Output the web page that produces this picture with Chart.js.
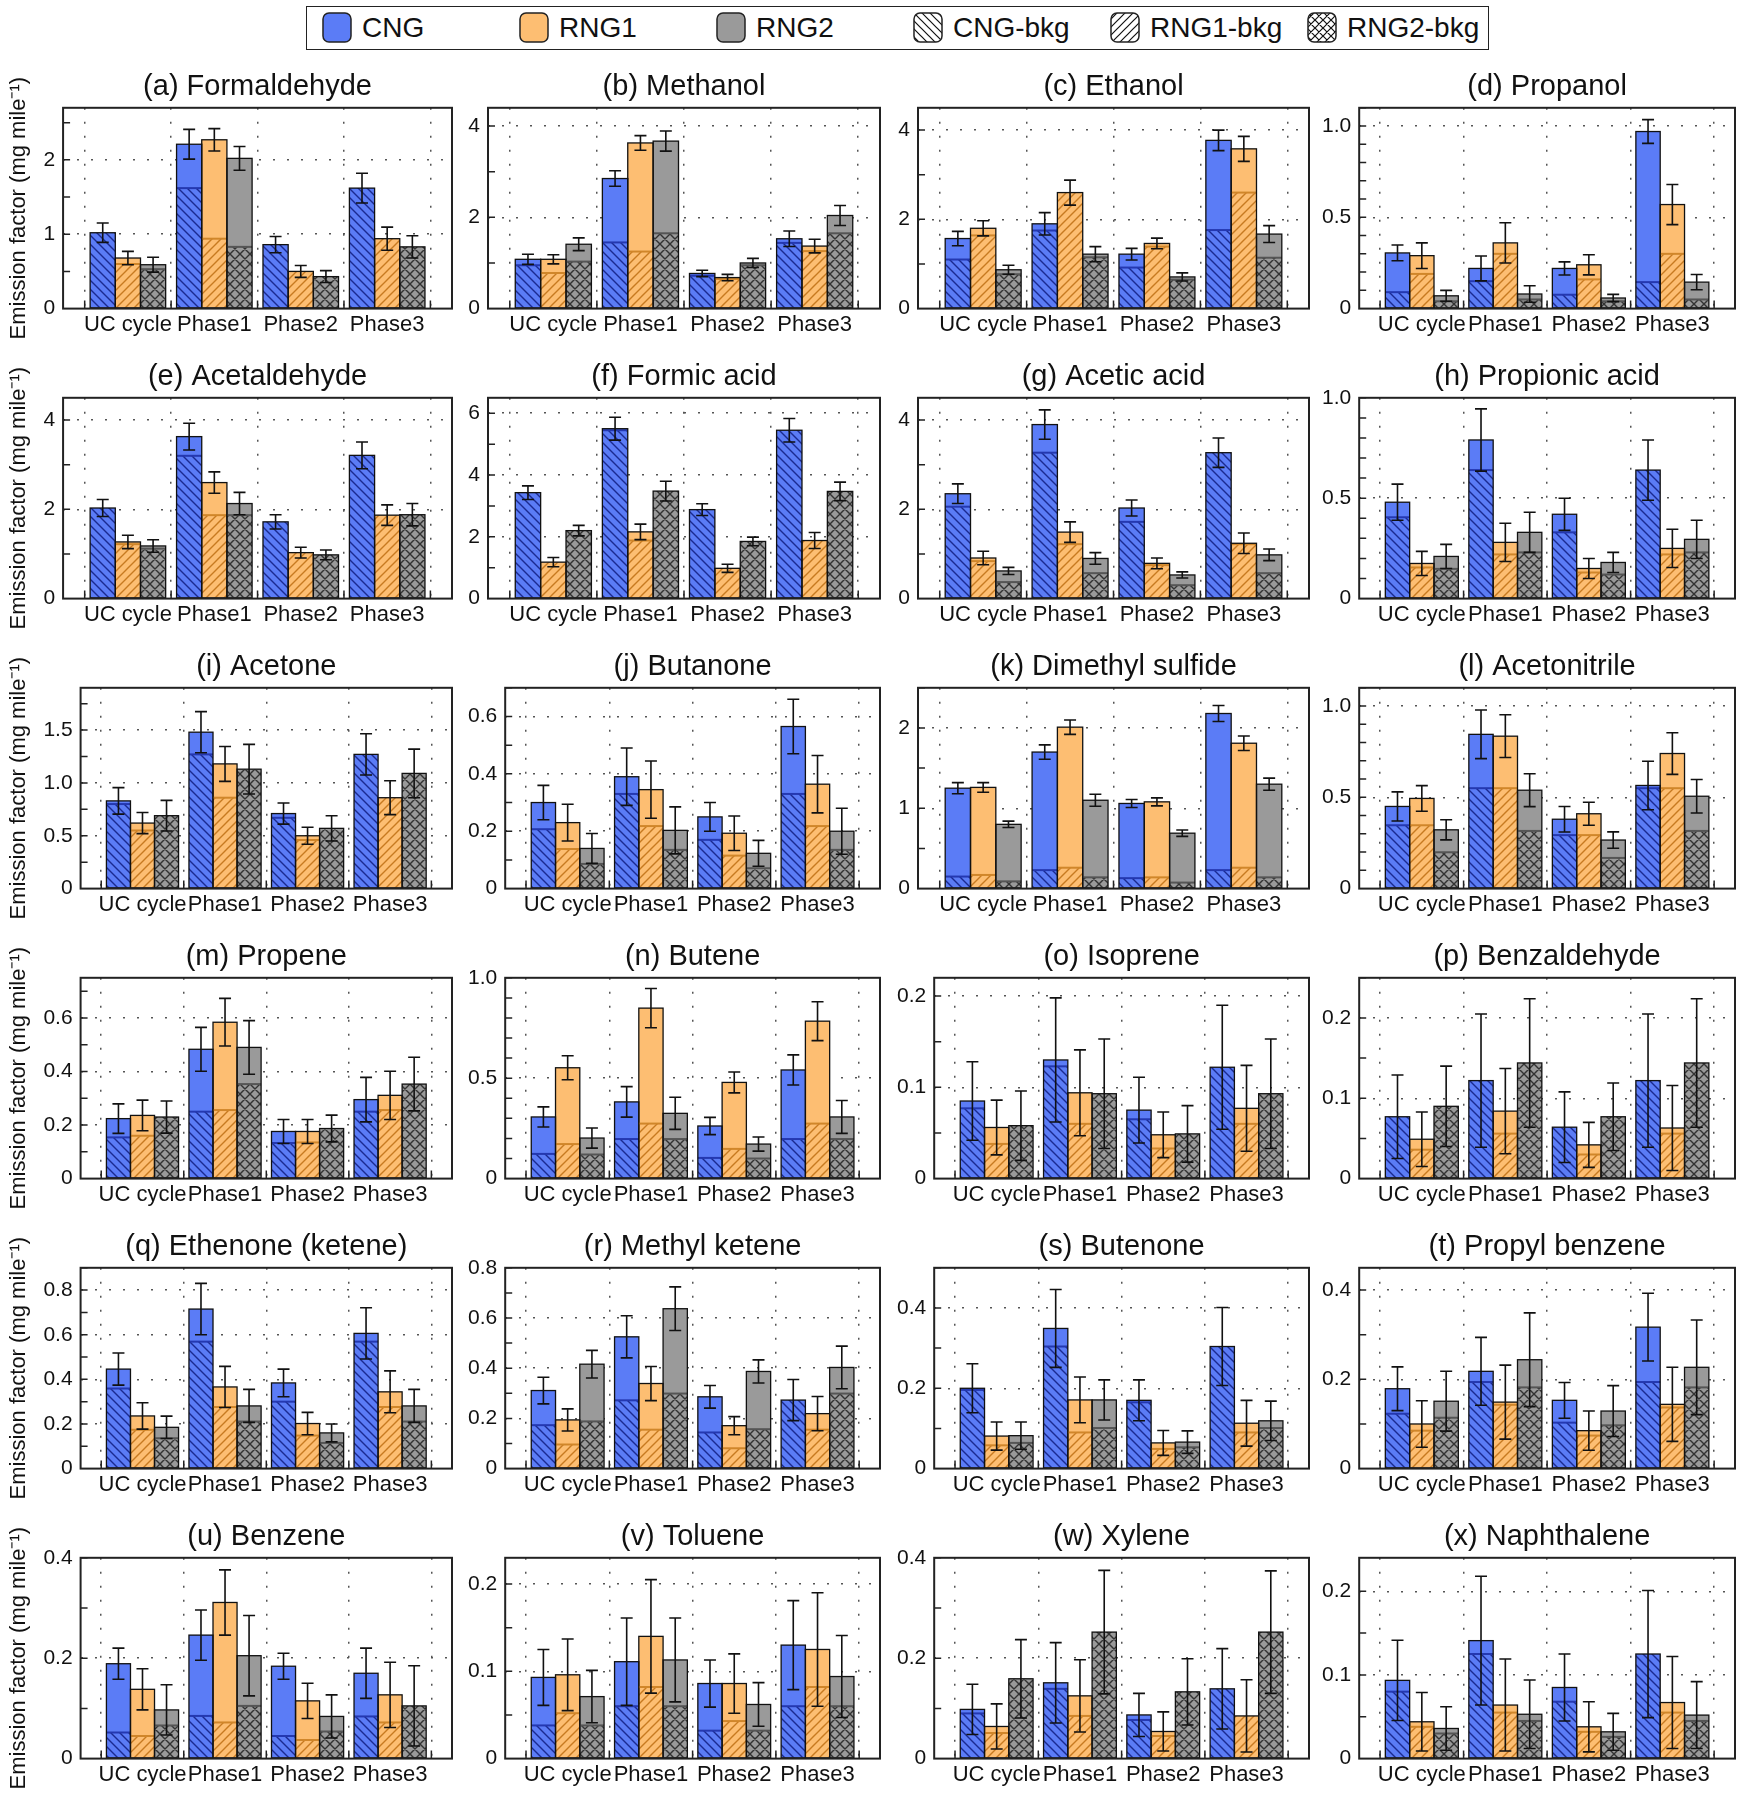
<!DOCTYPE html>
<html>
<head>
<meta charset="utf-8">
<script src="https://cdn.jsdelivr.net/npm/chart.js@4.4.1/dist/chart.umd.min.js"></script>
<style>
  html, body { margin: 0; padding: 0; background: #fff; width: 1743px; height: 1800px; overflow: hidden; }
  body { position: relative; font-family: "Liberation Sans", Arial, Helvetica, sans-serif; }
  #legend { position: absolute; left: 306px; top: 6px; width: 1183px; height: 44px; border: 1.5px solid #222; box-sizing: border-box; }
  .item { position: absolute; top: 5px; height: 31px; font-size: 28px; line-height: 31px; color: #111; }
  .item canvas { position: absolute; left: 0; top: 0; }
  .item span { position: absolute; left: 40px; top: 0; white-space: nowrap; }
  .panel { position: absolute; }
</style>
</head>
<body>
<div id="legend"></div>
<script>
var FONT = '"Liberation Sans", Arial, Helvetica, sans-serif';

var categories = ['UC cycle', 'Phase1', 'Phase2', 'Phase3'];
var seriesNames = ['CNG', 'RNG1', 'RNG2'];
var panelTitles = ['(a) Formaldehyde', '(b) Methanol', '(c) Ethanol', '(d) Propanol',
  '(e) Acetaldehyde', '(f) Formic acid', '(g) Acetic acid', '(h) Propionic acid',
  '(i) Acetone', '(j) Butanone', '(k) Dimethyl sulfide', '(l) Acetonitrile',
  '(m) Propene', '(n) Butene', '(o) Isoprene', '(p) Benzaldehyde',
  '(q) Ethenone (ketene)', '(r) Methyl ketene', '(s) Butenone', '(t) Propyl benzene',
  '(u) Benzene', '(v) Toluene', '(w) Xylene', '(x) Naphthalene'];

// y axis range and tick steps, one entry per panel
var yMax   = [2.7, 4.4, 4.5, 1.1, 4.5, 6.5, 4.5, 1.0, 1.9, 0.7, 2.5, 1.1, 0.75, 1.0, 0.22, 0.25, 0.9, 0.8, 0.5, 0.45, 0.4, 0.23, 0.4, 0.24];
var yMajor = [1, 2, 2, 0.5, 2, 2, 2, 0.5, 0.5, 0.2, 1, 0.5, 0.2, 0.5, 0.1, 0.1, 0.2, 0.2, 0.2, 0.2, 0.2, 0.1, 0.2, 0.1];
var yMinor = [0.5, 1, 1, 0.1, 1, 1, 1, 0.1, 0.25, 0.1, 0.5, 0.1, 0.1, 0.1, 0.05, 0.05, 0.1, 0.1, 0.1, 0.1, 0.1, 0.05, 0.1, 0.05];

// values per panel: [UC cycle, Phase1, Phase2, Phase3]
var cngTotal = [
  [1.02, 2.21, 0.86, 1.62], [1.08, 2.85, 0.77, 1.53], [1.57, 1.90, 1.22, 3.77], [0.305, 0.22, 0.22, 0.97],
  [2.03, 3.63, 1.72, 3.21], [3.43, 5.50, 2.88, 5.45], [2.35, 3.90, 2.03, 3.27], [0.48, 0.79, 0.42, 0.64],
  [0.83, 1.48, 0.71, 1.27], [0.30, 0.39, 0.25, 0.565], [1.25, 1.70, 1.06, 2.18], [0.45, 0.845, 0.38, 0.565],
  [0.224, 0.483, 0.176, 0.295], [0.307, 0.382, 0.262, 0.541], [0.085, 0.13, 0.075, 0.122], [0.077, 0.122, 0.064, 0.122],
  [0.446, 0.715, 0.384, 0.606], [0.311, 0.525, 0.286, 0.273], [0.20, 0.349, 0.17, 0.304], [0.179, 0.218, 0.153, 0.317],
  [0.189, 0.246, 0.184, 0.17], [0.093, 0.111, 0.086, 0.13], [0.098, 0.151, 0.087, 0.139], [0.0935, 0.141, 0.085, 0.125]
];
var cngBkg = [
  [1.02, 1.62, 0.86, 1.62], [0.95, 1.45, 0.72, 1.44], [1.10, 1.75, 0.92, 1.76], [0.09, 0.15, 0.076, 0.145],
  [2.03, 3.20, 1.72, 3.21], [3.43, 5.45, 2.88, 5.45], [2.06, 3.27, 1.72, 3.27], [0.405, 0.64, 0.33, 0.64],
  [0.80, 1.27, 0.67, 1.27], [0.207, 0.33, 0.17, 0.33], [0.15, 0.23, 0.13, 0.23], [0.347, 0.55, 0.293, 0.55],
  [0.154, 0.25, 0.133, 0.25], [0.123, 0.197, 0.103, 0.197], [0.077, 0.123, 0.065, 0.122], [0.077, 0.122, 0.064, 0.122],
  [0.359, 0.569, 0.30, 0.569], [0.173, 0.272, 0.144, 0.273], [0.196, 0.304, 0.165, 0.304], [0.123, 0.194, 0.103, 0.194],
  [0.052, 0.085, 0.045, 0.084], [0.038, 0.06, 0.032, 0.06], [0.09, 0.139, 0.077, 0.139], [0.08, 0.125, 0.068, 0.125]
];
var cngErr = [
  [0.13, 0.20, 0.11, 0.20], [0.11, 0.17, 0.07, 0.17], [0.16, 0.25, 0.13, 0.23], [0.043, 0.068, 0.036, 0.065],
  [0.19, 0.30, 0.16, 0.30], [0.22, 0.37, 0.19, 0.38], [0.22, 0.33, 0.18, 0.33], [0.09, 0.155, 0.08, 0.15],
  [0.125, 0.195, 0.10, 0.195], [0.06, 0.10, 0.05, 0.095], [0.07, 0.09, 0.05, 0.10], [0.08, 0.133, 0.07, 0.133],
  [0.055, 0.082, 0.045, 0.083], [0.05, 0.076, 0.043, 0.075], [0.043, 0.068, 0.036, 0.068], [0.052, 0.083, 0.044, 0.083],
  [0.072, 0.115, 0.062, 0.115], [0.053, 0.084, 0.045, 0.082], [0.061, 0.097, 0.051, 0.097], [0.049, 0.076, 0.04, 0.076],
  [0.031, 0.05, 0.026, 0.05], [0.032, 0.05, 0.027, 0.051], [0.05, 0.08, 0.043, 0.08], [0.048, 0.077, 0.04, 0.076]
];
var rng1Total = [
  [0.68, 2.27, 0.50, 0.94], [1.08, 3.63, 0.68, 1.37], [1.80, 2.60, 1.46, 3.58], [0.29, 0.36, 0.24, 0.57],
  [1.27, 2.60, 1.03, 1.87], [1.18, 2.16, 0.98, 1.88], [0.91, 1.49, 0.79, 1.24], [0.175, 0.28, 0.15, 0.25],
  [0.62, 1.18, 0.50, 0.86], [0.23, 0.345, 0.193, 0.364], [1.26, 2.01, 1.08, 1.81], [0.494, 0.835, 0.41, 0.74],
  [0.236, 0.584, 0.176, 0.311], [0.552, 0.849, 0.479, 0.784], [0.056, 0.094, 0.048, 0.077], [0.049, 0.084, 0.042, 0.063],
  [0.236, 0.366, 0.202, 0.344], [0.194, 0.339, 0.171, 0.219], [0.081, 0.171, 0.064, 0.113], [0.10, 0.149, 0.085, 0.144],
  [0.138, 0.311, 0.115, 0.127], [0.096, 0.14, 0.086, 0.125], [0.064, 0.125, 0.054, 0.085], [0.044, 0.064, 0.038, 0.067]
];
var rng1Bkg = [
  [0.60, 0.94, 0.50, 0.94], [0.78, 1.25, 0.65, 1.26], [1.64, 2.60, 1.39, 2.60], [0.19, 0.30, 0.16, 0.30],
  [1.22, 1.87, 1.03, 1.87], [1.18, 1.88, 0.98, 1.88], [0.84, 1.22, 0.75, 1.22], [0.155, 0.22, 0.13, 0.22],
  [0.55, 0.86, 0.46, 0.86], [0.138, 0.218, 0.115, 0.218], [0.17, 0.26, 0.14, 0.26], [0.347, 0.55, 0.293, 0.55],
  [0.16, 0.256, 0.135, 0.256], [0.172, 0.274, 0.148, 0.274], [0.038, 0.06, 0.033, 0.06], [0.036, 0.056, 0.03, 0.056],
  [0.174, 0.276, 0.148, 0.276], [0.096, 0.155, 0.081, 0.155], [0.058, 0.09, 0.049, 0.09], [0.085, 0.143, 0.074, 0.137],
  [0.045, 0.072, 0.037, 0.072], [0.052, 0.082, 0.043, 0.082], [0.051, 0.085, 0.045, 0.085], [0.038, 0.055, 0.032, 0.055]
];
var rng1Err = [
  [0.09, 0.15, 0.08, 0.155], [0.10, 0.16, 0.07, 0.15], [0.17, 0.28, 0.12, 0.28], [0.07, 0.11, 0.055, 0.11],
  [0.15, 0.24, 0.12, 0.23], [0.15, 0.25, 0.13, 0.26], [0.15, 0.23, 0.12, 0.23], [0.06, 0.095, 0.05, 0.095],
  [0.10, 0.165, 0.08, 0.16], [0.064, 0.10, 0.06, 0.10], [0.06, 0.09, 0.05, 0.09], [0.07, 0.117, 0.063, 0.114],
  [0.057, 0.089, 0.045, 0.09], [0.06, 0.098, 0.052, 0.097], [0.03, 0.047, 0.025, 0.047], [0.034, 0.053, 0.028, 0.053],
  [0.059, 0.092, 0.05, 0.094], [0.044, 0.068, 0.036, 0.068], [0.035, 0.057, 0.031, 0.057], [0.052, 0.083, 0.044, 0.083],
  [0.041, 0.065, 0.035, 0.065], [0.041, 0.065, 0.034, 0.065], [0.045, 0.072, 0.039, 0.072], [0.035, 0.055, 0.03, 0.055]
];
var rng2Total = [
  [0.59, 2.02, 0.43, 0.83], [1.41, 3.67, 1.00, 2.04], [0.87, 1.22, 0.71, 1.67], [0.07, 0.08, 0.058, 0.145],
  [1.18, 2.13, 0.98, 1.88], [2.20, 3.48, 1.85, 3.47], [0.62, 0.90, 0.53, 0.98], [0.21, 0.33, 0.18, 0.295],
  [0.69, 1.13, 0.57, 1.09], [0.14, 0.203, 0.123, 0.20], [0.80, 1.10, 0.69, 1.30], [0.322, 0.539, 0.266, 0.506],
  [0.23, 0.49, 0.187, 0.353], [0.202, 0.325, 0.172, 0.307], [0.058, 0.093, 0.049, 0.093], [0.09, 0.144, 0.077, 0.144],
  [0.185, 0.281, 0.16, 0.281], [0.416, 0.637, 0.387, 0.403], [0.082, 0.171, 0.066, 0.119], [0.151, 0.244, 0.129, 0.227],
  [0.097, 0.205, 0.084, 0.105], [0.071, 0.113, 0.062, 0.094], [0.159, 0.252, 0.133, 0.252], [0.036, 0.053, 0.032, 0.052]
];
var rng2Bkg = [
  [0.53, 0.83, 0.43, 0.83], [1.03, 1.65, 0.95, 1.65], [0.77, 1.15, 0.65, 1.14], [0.04, 0.05, 0.04, 0.05],
  [1.12, 1.87, 0.98, 1.88], [2.20, 3.48, 1.85, 3.47], [0.37, 0.57, 0.30, 0.57], [0.148, 0.23, 0.12, 0.23],
  [0.69, 1.13, 0.57, 1.09], [0.086, 0.135, 0.071, 0.135], [0.09, 0.14, 0.075, 0.14], [0.199, 0.316, 0.168, 0.316],
  [0.23, 0.353, 0.187, 0.353], [0.12, 0.197, 0.10, 0.197], [0.058, 0.093, 0.049, 0.093], [0.09, 0.144, 0.077, 0.144],
  [0.136, 0.211, 0.115, 0.211], [0.188, 0.299, 0.157, 0.299], [0.064, 0.101, 0.053, 0.101], [0.114, 0.182, 0.097, 0.182],
  [0.066, 0.105, 0.054, 0.105], [0.038, 0.06, 0.032, 0.06], [0.159, 0.252, 0.133, 0.252], [0.03, 0.045, 0.026, 0.045]
];
var rng2Err = [
  [0.10, 0.16, 0.08, 0.15], [0.14, 0.22, 0.10, 0.22], [0.10, 0.17, 0.09, 0.19], [0.03, 0.045, 0.02, 0.042],
  [0.14, 0.25, 0.11, 0.25], [0.17, 0.32, 0.14, 0.30], [0.08, 0.13, 0.07, 0.13], [0.06, 0.10, 0.05, 0.095],
  [0.145, 0.235, 0.12, 0.23], [0.052, 0.082, 0.045, 0.08], [0.04, 0.075, 0.04, 0.075], [0.055, 0.09, 0.045, 0.092],
  [0.06, 0.10, 0.05, 0.10], [0.05, 0.08, 0.035, 0.082], [0.038, 0.06, 0.031, 0.06], [0.05, 0.08, 0.042, 0.08],
  [0.05, 0.074, 0.04, 0.074], [0.055, 0.087, 0.046, 0.085], [0.034, 0.05, 0.028, 0.049], [0.067, 0.105, 0.057, 0.106],
  [0.05, 0.08, 0.043, 0.08], [0.03, 0.048, 0.025, 0.047], [0.078, 0.123, 0.066, 0.122], [0.026, 0.041, 0.022, 0.04]
];

var totals = [cngTotal, rng1Total, rng2Total];
var bkgs = [cngBkg, rng1Bkg, rng2Bkg];
var errs = [cngErr, rng1Err, rng2Err];

var fills = ['#5b7cf6', '#fdbe72', '#9a9a9a'];
var hatchInk = ['#1b2a90', '#c77a20', '#333333'];
var edgeInk = ['#2438b0', '#d0862a', '#555555'];
var hatchKinds = ['back', 'fwd', 'cross'];

function makePattern(bg, ink, kind, size, lw) {
  var c = document.createElement('canvas');
  c.width = size; c.height = size;
  var g = c.getContext('2d');
  g.fillStyle = bg;
  g.fillRect(0, 0, size, size);
  g.strokeStyle = ink;
  g.lineWidth = lw;
  g.beginPath();
  for (var k = -1; k <= 1; k++) {
    if (kind === 'back' || kind === 'cross') { g.moveTo(-1, -1 + k * size); g.lineTo(size + 1, size + 1 + k * size); }
    if (kind === 'fwd' || kind === 'cross') { g.moveTo(-1, size + 1 + k * size); g.lineTo(size + 1, -1 + k * size); }
  }
  g.stroke();
  return g.createPattern(c, 'repeat');
}

var patterns = [0, 1, 2].map(function (s) {
  return makePattern(fills[s], hatchInk[s], hatchKinds[s], s === 2 ? 10 : 9, 1.4);
});

function roundRect(g, x, y, w, h, r) {
  g.beginPath();
  g.moveTo(x + r, y);
  g.arcTo(x + w, y, x + w, y + h, r);
  g.arcTo(x + w, y + h, x, y + h, r);
  g.arcTo(x, y + h, x, y, r);
  g.arcTo(x, y, x + w, y, r);
  g.closePath();
}

// legend
(function () {
  var box = document.getElementById('legend');
  var names = seriesNames.concat(seriesNames.map(function (n) { return n + '-bkg'; }));
  names.forEach(function (name, i) {
    var item = document.createElement('div');
    item.className = 'item';
    item.style.left = (15 + i * 197) + 'px';
    var cv = document.createElement('canvas');
    cv.width = 30; cv.height = 31;
    var g = cv.getContext('2d');
    roundRect(g, 1, 1, 28, 29, 6);
    g.fillStyle = i < 3 ? fills[i] : makePattern('#ffffff', '#111111', hatchKinds[i - 3], 8, 1.2);
    g.fill();
    g.lineWidth = 1.5;
    g.strokeStyle = '#222';
    g.stroke();
    var sp = document.createElement('span');
    sp.textContent = name;
    item.appendChild(cv);
    item.appendChild(sp);
    box.appendChild(item);
  });
})();

function isMajor(v, step) {
  var q = v / step;
  return Math.abs(q - Math.round(q)) < 1e-6;
}

// frame, inner ticks, bar outlines and error bars
var panelDecor = {
  id: 'panelDecor',
  afterDatasetsDraw: function (chart, args, opts) {
    var p = opts.panel;
    var ctx = chart.ctx, a = chart.chartArea, ys = chart.scales.y, xs = chart.scales.x;
    ctx.save();
    for (var s = 0; s < 3; s++) {
      var lo = chart.getDatasetMeta(2 * s).data, hi = chart.getDatasetMeta(2 * s + 1).data;
      for (var i = 0; i < lo.length; i++) {
        var b = lo[i].getProps(['x', 'y', 'base', 'width'], true);
        var t = hi[i].getProps(['y'], true);
        var left = b.x - b.width / 2;
        if (bkgs[s][p][i] < totals[s][p][i]) {
          ctx.strokeStyle = edgeInk[s];
          ctx.lineWidth = 2;
          ctx.beginPath();
          ctx.moveTo(left, b.y);
          ctx.lineTo(left + b.width, b.y);
          ctx.stroke();
        }
        ctx.strokeStyle = '#111';
        ctx.lineWidth = 1.3;
        ctx.strokeRect(left, Math.min(t.y, b.y), b.width, b.base - Math.min(t.y, b.y));

        var tot = totals[s][p][i], e = errs[s][p][i];
        var yTop = ys.getPixelForValue(tot + e), yBot = ys.getPixelForValue(tot - e);
        ctx.lineWidth = 1.6;
        ctx.beginPath();
        ctx.moveTo(b.x, yTop); ctx.lineTo(b.x, yBot);
        ctx.moveTo(b.x - 6, yTop); ctx.lineTo(b.x + 6, yTop);
        ctx.moveTo(b.x - 6, yBot); ctx.lineTo(b.x + 6, yBot);
        ctx.stroke();
      }
    }
    ctx.strokeStyle = '#222';
    ctx.lineWidth = 1.5;
    ctx.beginPath();
    ys.ticks.forEach(function (tk) {
      if (tk.value <= 0) return;
      var yy = ys.getPixelForValue(tk.value);
      ctx.moveTo(a.left, yy); ctx.lineTo(a.left + 7, yy);
    });
    xs.ticks.forEach(function (tk) {
      var xx = xs.getPixelForValue(tk.value);
      ctx.moveTo(xx, a.bottom); ctx.lineTo(xx, a.bottom - 8);
    });
    ctx.stroke();
    ctx.lineWidth = 2;
    ctx.strokeRect(a.left, a.top, a.right - a.left, a.bottom - a.top);
    ctx.restore();
  }
};

var cellLeft = [0, 460, 889, 1314];
var cellRight = [455, 884, 1312, 1743];
var padRight = [3, 4, 3, 8];
var yMinWidth = [56, 28, 29, 0];

panelTitles.forEach(function (title, p) {
  var row = Math.floor(p / 4), col = p % 4;
  var holder = document.createElement('div');
  holder.className = 'panel';
  holder.style.left = cellLeft[col] + 'px';
  holder.style.top = (64 + 290 * row) + 'px';
  var cv = document.createElement('canvas');
  cv.width = cellRight[col] - cellLeft[col];
  cv.height = 290;
  holder.appendChild(cv);
  document.body.appendChild(holder);

  var datasets = [];
  for (var s = 0; s < 3; s++) {
    (function (s) {
      var lowVals = categories.map(function (c, i) { return Math.min(bkgs[s][p][i], totals[s][p][i]); });
      datasets.push({
        label: seriesNames[s] + '-bkg', stack: seriesNames[s], xAxisID: 'x', yAxisID: 'y',
        data: lowVals.map(function (v, i) { return { x: i, y: v }; }),
        backgroundColor: patterns[s], borderWidth: 0
      });
      datasets.push({
        label: seriesNames[s], stack: seriesNames[s], xAxisID: 'x', yAxisID: 'y',
        data: lowVals.map(function (v, i) { return { x: i, y: totals[s][p][i] - v }; }),
        backgroundColor: fills[s], borderWidth: 0
      });
    })(s);
  }

  new Chart(cv.getContext('2d'), {
    type: 'bar',
    data: { datasets: datasets },
    options: {
      responsive: false,
      animation: false,
      datasets: { bar: { categoryPercentage: 0.874, barPercentage: 1.0 } },
      layout: { padding: { left: col === 0 ? 6 : 0, right: padRight[col], top: 0, bottom: 13 } },
      plugins: {
        legend: { display: false },
        tooltip: { enabled: false },
        title: {
          display: true, text: title, fullSize: false, color: '#111',
          font: { family: FONT, size: 29, weight: 'normal' },
          padding: { top: 6, bottom: 3 }
        },
        panelDecor: { panel: p }
      },
      scales: {
        x: {
          type: 'linear', position: 'bottom', min: -0.75, max: 3.75, offset: false,
          afterBuildTicks: function (ax) {
            ax.ticks = [-0.5, 0.5, 1.5, 2.5, 3.5].map(function (v) { return { value: v }; });
          },
          ticks: { display: false },
          grid: { offset: false, drawTicks: false, color: '#555', lineWidth: 1.5 },
          border: { display: false, dash: [2, 12] }
        },
        xl: {
          type: 'linear', position: 'bottom', min: -0.75, max: 3.75, offset: false,
          afterBuildTicks: function (ax) {
            ax.ticks = [0, 1, 2, 3].map(function (v) { return { value: v }; });
          },
          ticks: {
            autoSkip: false, maxRotation: 0, minRotation: 0, padding: 3, color: '#111',
            font: { family: FONT, size: 22 },
            callback: function (v) { return categories[v]; }
          },
          grid: { display: false, drawTicks: false, offset: false },
          border: { display: false }
        },
        y: {
          type: 'linear', stacked: true, min: 0, max: yMax[p],
          afterBuildTicks: function (ax) {
            var n = Math.floor(yMax[p] / yMinor[p] + 1e-6), list = [];
            for (var k = 0; k <= n; k++) list.push({ value: Math.round(k * yMinor[p] * 1e6) / 1e6 });
            ax.ticks = list;
          },
          afterFit: function (ax) { ax.width = Math.max(ax.width, yMinWidth[col]); },
          ticks: {
            autoSkip: false, padding: 8, color: '#111',
            font: { family: FONT, size: 21 },
            callback: function (v) {
              if (!isMajor(v, yMajor[p])) return '';
              if (v === 0) return '0';
              return yMajor[p] >= 1 ? String(Math.round(v)) : v.toFixed(1);
            }
          },
          grid: {
            drawTicks: false, lineWidth: 1.5,
            color: function (c) {
              var v = c.tick ? c.tick.value : 0;
              return (v > 1e-9 && v < yMax[p] - 1e-9 && isMajor(v, yMajor[p])) ? '#555' : 'rgba(0,0,0,0)';
            }
          },
          border: { display: false, dash: [2, 12] },
          title: {
            display: col === 0, text: 'Emission factor (mg mile\u207B\u00B9)', color: '#111',
            font: { family: FONT, size: 22 }, padding: { top: 0, bottom: 3 }
          }
        }
      }
    },
    plugins: [panelDecor]
  });
});
</script>
</body>
</html>
